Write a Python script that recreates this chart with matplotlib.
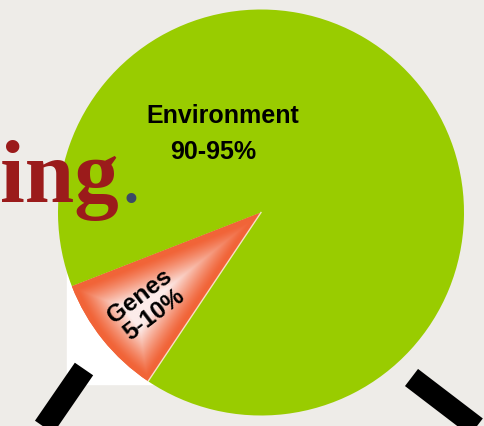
import matplotlib.pyplot as plt
import numpy as np
from matplotlib.patches import Rectangle

# data
labels = ['Genes\n5-10%', 'Environment\n90-95%']
shares = [9.7, 90.3]
colors = ['#f2663a', '#99cc00']

W, H = 484, 427
fig = plt.figure(figsize=(W / 100, H / 100), dpi=100)
fig.patch.set_facecolor('#eeece8')
ax = fig.add_axes([0, 0, 1, 1])
ax.set_facecolor('#eeece8')

cx, cy, R = 261, 213.5, 203

# white backdrop behind the small slice (part of the slide)
ax.add_patch(Rectangle((67, 42), 95, 120, color='white', zorder=0))

wedges, _ = ax.pie(shares, colors=colors, startangle=201.3, counterclock=True,
                   center=(cx, cy), radius=R, wedgeprops=dict(linewidth=0))
for w in wedges:
    w.set_zorder(2)

# soft glow inside the genes slice: orange at the edges, pale in the middle
g = wedges[0]
t1, t2 = np.radians(g.theta1), np.radians(g.theta2)
xs = np.arange(cx - R - 2, cx + 2, 1.0)
ys = np.arange(cy - R - 2, cy + 2, 1.0)
X, Y = np.meshgrid(xs, ys)
dx, dy = X - cx, Y - cy
d1 = np.abs(dx * np.sin(t1) - dy * np.cos(t1))
d2 = np.abs(dx * np.sin(t2) - dy * np.cos(t2))
d3 = R - np.hypot(dx, dy)
d = np.minimum(np.minimum(d1, d2), d3)
t = np.clip((d - 4) / 32.0, 0, 1) ** 1.2
edge = np.array([241, 100, 56]) / 255
mid = np.array([252, 236, 234]) / 255
img = edge[None, None, :] * (1 - t[..., None]) + mid[None, None, :] * t[..., None]
im = ax.imshow(img, extent=(xs[0], xs[-1], ys[0], ys[-1]), origin='lower', zorder=3,
               interpolation='bilinear')
im.set_clip_path(g)

# pale highlight along the right edge of the slice
ax.plot([cx, cx + R * np.cos(t2)], [cy, cy + R * np.sin(t2)], color='#fff4e8',
        lw=1.0, alpha=0.8, zorder=4)

# slice labels
mid_ang = np.radians((g.theta1 + g.theta2) / 2)
ax.text(cx + 0.72 * R * np.cos(mid_ang), cy + 0.72 * R * np.sin(mid_ang), labels[0],
        rotation=np.degrees(mid_ang) - 181.5, ha='center', va='center',
        fontsize=17.5, fontweight='bold', family='Liberation Sans', linespacing=1.0,
        rotation_mode='anchor', zorder=5)
env_name, env_val = labels[1].split('\n')
ax.text(222.5, H - 116, env_name, ha='center', va='center', fontsize=18,
        fontweight='bold', family='Liberation Sans', zorder=5)
ax.text(213.5, H - 152, env_val, ha='center', va='center', fontsize=18,
        fontweight='bold', family='Liberation Sans', zorder=5)

# slide title fragment
ax.text(0, H - 202, 'ing', ha='left', va='baseline', fontsize=64,
        family='Liberation Serif', fontweight='bold', color='#9b1b1b', zorder=6)
ax.text(120, H - 202, '.', ha='left', va='baseline', fontsize=60,
        family='Liberation Serif', color='#3b4a66', zorder=6)

# magnifier handle strokes
ax.plot([84, 40], [H - 370, H - 434], color='black', lw=16, solid_capstyle='butt', zorder=7)
ax.plot([411.5, 492], [H - 378.5, H - 440], color='black', lw=15.5, solid_capstyle='butt', zorder=7)

ax.set_xlim(0, W)
ax.set_ylim(0, H)
ax.set_axis_off()
fig.savefig('out.png', dpi=100, facecolor=fig.get_facecolor())
